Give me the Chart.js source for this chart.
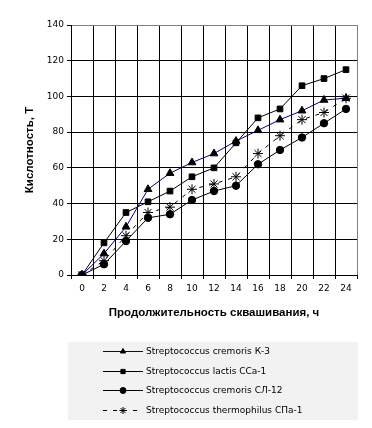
<!DOCTYPE html>
<html>
<head>
<meta charset="utf-8">
<script src="https://cdn.jsdelivr.net/npm/chart.js@4/dist/chart.umd.min.js"></script>
<style>
  html, body { margin: 0; padding: 0; background: #fff; }
  #wrap { width: 372px; height: 428px; }
</style>
</head>
<body>
<div id="wrap"><canvas id="chart" width="372" height="428"></canvas></div>
<script>
// data
const hours = ['0', '2', '4', '6', '8', '10', '12', '14', '16', '18', '20', '22', '24'];
const cremorisK3 = [0, 12, 27, 48, 57, 63, 68, 75, 81, 87, 92, 98, 99];
const lactisCCa1 = [0, 18, 35, 41, 47, 55, 60, 74, 88, 93, 106, 110, 115];
const cremorisCL12 = [0, 6, 19, 32, 34, 42, 47, 50, 62, 70, 77, 85, 93];
const thermophilusCPa1 = [0, 8, 22, 35, 38, 48, 51, 55, 68, 78, 87, 91, 99];
const seriesNames = [
    'Streptococcus cremoris К-3',
    'Streptococcus lactis ССа-1',
    'Streptococcus cremoris СЛ-12',
    'Streptococcus thermophilus СПа-1'
];

const tickFont = { family: 'DejaVu Sans', size: 9 };

// legend drawn by hand, Excel style: short line with marker, then name
const legendPlugin = {
    id: 'excelLegend',
    afterDraw(chart) {
        const ctx = chart.ctx;
        ctx.save();
        ctx.fillStyle = '#f2f2f2';
        ctx.fillRect(68, 342, 290, 78);
        chart.data.datasets.forEach((ds, i) => {
            const y = Math.round(351 + i * 19.5) + 0.5;
            ctx.strokeStyle = ds.borderColor;
            ctx.lineWidth = 1;
            ctx.setLineDash(ds.borderDash || []);
            ctx.beginPath();
            ctx.moveTo(103, y);
            ctx.lineTo(143, y);
            ctx.stroke();
            ctx.setLineDash([]);
            ctx.fillStyle = '#000';
            ctx.strokeStyle = '#000';
            Chart.helpers.drawPoint(ctx, {
                pointStyle: ds.pointStyle,
                radius: ds.pointStyle === 'star' ? 3.5 : 3,
                rotation: 0,
                borderWidth: 1
            }, 123, y);
            ctx.font = '9px "DejaVu Sans"';
            ctx.textBaseline = 'middle';
            ctx.textAlign = 'left';
            ctx.fillText(ds.label, 146, y);
        });
        ctx.restore();
    }
};

new Chart(document.getElementById('chart').getContext('2d'), {
    type: 'line',
    data: {
        labels: hours,
        datasets: [
            {
                label: seriesNames[0],
                data: cremorisK3,
                borderColor: '#000080',
                borderWidth: 1,
                pointStyle: 'triangle',
                pointRadius: 4.5,
                pointBackgroundColor: '#000',
                pointBorderColor: '#000'
            },
            {
                label: seriesNames[1],
                data: lactisCCa1,
                borderColor: '#000',
                borderWidth: 1,
                pointStyle: 'rect',
                pointRadius: 4,
                pointBackgroundColor: '#000',
                pointBorderColor: '#000'
            },
            {
                label: seriesNames[2],
                data: cremorisCL12,
                borderColor: '#000',
                borderWidth: 1,
                pointStyle: 'circle',
                pointRadius: 3.7,
                pointBackgroundColor: '#000',
                pointBorderColor: '#000'
            },
            {
                label: seriesNames[3],
                data: thermophilusCPa1,
                borderColor: '#000',
                borderWidth: 1,
                borderDash: [4, 6],
                pointStyle: 'star',
                pointRadius: 5,
                pointBackgroundColor: '#000',
                pointBorderColor: '#000'
            }
        ]
    },
    options: {
        responsive: false,
        animation: false,
        layout: { padding: { top: 25, right: 15, left: 0, bottom: 0 } },
        plugins: {
            legend: { display: false },
            tooltip: { enabled: false }
        },
        scales: {
            x: {
                offset: true,
                grid: {
                    offset: true,
                    color: '#000',
                    lineWidth: 1,
                    tickLength: 4,
                    tickColor: '#000'
                },
                border: { color: '#000' },
                ticks: { font: tickFont, color: '#000', padding: 4, maxRotation: 0, autoSkip: false },
                title: {
                    display: true,
                    text: 'Продолжительность сквашивания, ч',
                    font: { family: 'Liberation Sans', size: 11.5, weight: 'bold' },
                    color: '#000',
                    padding: { top: 0, bottom: 108 }
                },
                afterFit(scale) { scale.height = 153; }
            },
            y: {
                min: 0,
                max: 140,
                ticks: { stepSize: 20, font: tickFont, color: '#000', padding: 3 },
                grid: {
                    color: ctx => ctx.tick && ctx.tick.value === 140 ? '#808080' : '#000',
                    lineWidth: 1,
                    tickLength: 4,
                    tickColor: '#000'
                },
                border: { color: '#000' },
                title: {
                    display: true,
                    text: 'Кислотность, Т',
                    font: { family: 'Liberation Sans', size: 11.5, weight: 'bold' },
                    color: '#000',
                    padding: { top: 23, bottom: 0 }
                },
                afterFit(scale) { scale.width = 71; }
            }
        }
    },
    plugins: [legendPlugin, {
        id: 'rightBorder',
        afterDatasetsDraw(chart) {
            const a = chart.chartArea;
            const ctx = chart.ctx;
            ctx.save();
            ctx.strokeStyle = '#808080';
            ctx.lineWidth = 1;
            ctx.beginPath();
            ctx.moveTo(Math.round(a.right) + 0.5, a.top);
            ctx.lineTo(Math.round(a.right) + 0.5, a.bottom);
            ctx.stroke();
            ctx.restore();
        }
    }]
});
</script>
</body>
</html>
